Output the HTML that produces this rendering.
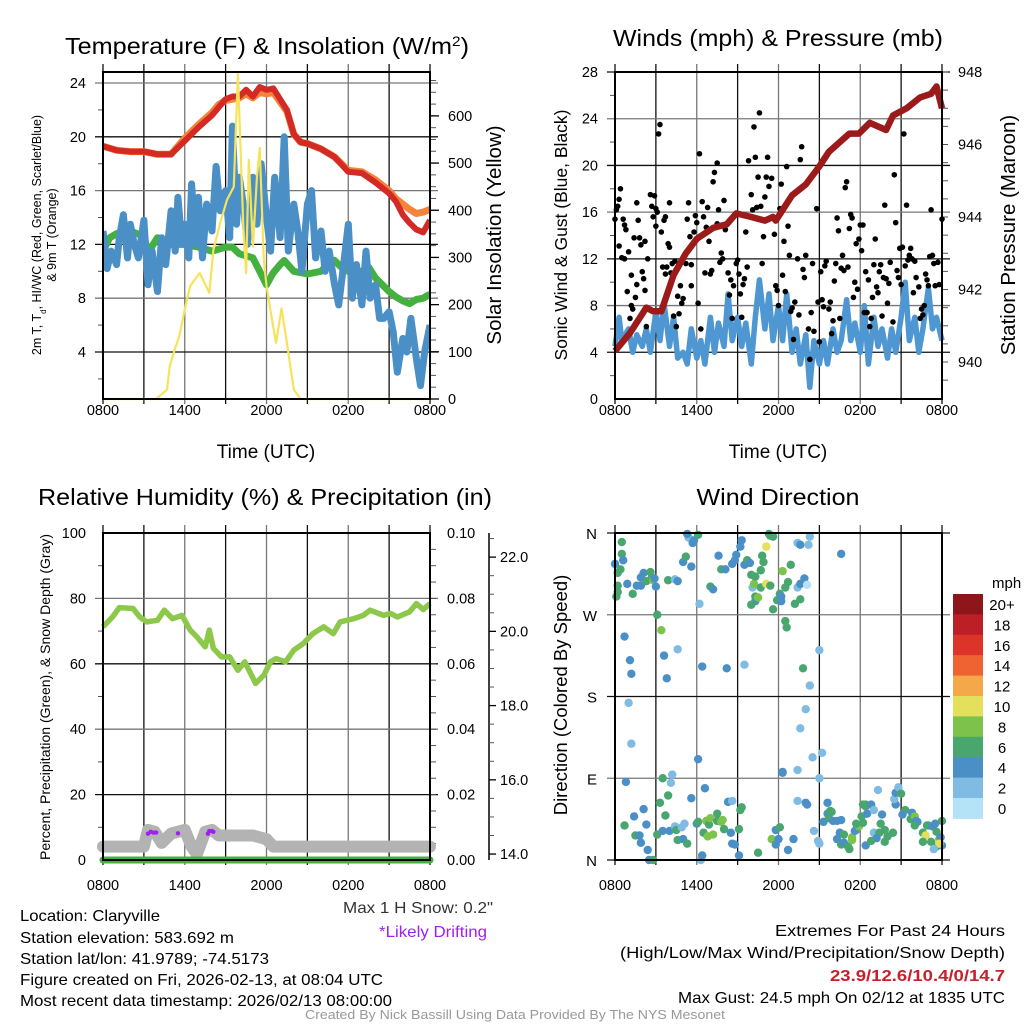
<!DOCTYPE html>
<html><head><meta charset="utf-8">
<style>
html,body{margin:0;padding:0;background:#fff;}
svg{display:block;font-family:"Liberation Sans",sans-serif;}
</style></head>
<body>
<svg id="fig" width="1024" height="1024" viewBox="0 0 1024 1024" xmlns="http://www.w3.org/2000/svg">
<rect width="1024" height="1024" fill="#fff"/>
<g id="layer"></g>
<!-- titles -->
<text x="267" y="54" text-anchor="middle" font-size="23" textLength="404" lengthAdjust="spacingAndGlyphs">Temperature (F) &amp; Insolation (W/m<tspan baseline-shift="super" font-size="14">2</tspan>)</text>
<text x="778" y="46" text-anchor="middle" font-size="23" textLength="330" lengthAdjust="spacingAndGlyphs">Winds (mph) &amp; Pressure (mb)</text>
<text x="265" y="505" text-anchor="middle" font-size="23" textLength="454" lengthAdjust="spacingAndGlyphs">Relative Humidity (%) &amp; Precipitation (in)</text>
<text x="778" y="505" text-anchor="middle" font-size="23" textLength="163" lengthAdjust="spacingAndGlyphs">Wind Direction</text>
<!-- axis titles -->
<text x="266" y="458" text-anchor="middle" font-size="19">Time (UTC)</text>
<text x="778" y="458" text-anchor="middle" font-size="19">Time (UTC)</text>
<text transform="translate(41,235) rotate(-90)" text-anchor="middle" font-size="12.5">2m T, T<tspan baseline-shift="sub" font-size="8">d</tspan>, HI/WC (Red, Green, Scarlet/Blue)</text>
<text transform="translate(56,235) rotate(-90)" text-anchor="middle" font-size="12.5">&amp; 9m T (Orange)</text>
<text transform="translate(501,235) rotate(-90)" text-anchor="middle" font-size="20.5">Solar Insolation (Yellow)</text>
<text transform="translate(567,235) rotate(-90)" text-anchor="middle" font-size="17.5">Sonic Wind &amp; Gust (Blue, Black)</text>
<text transform="translate(1015,235) rotate(-90)" text-anchor="middle" font-size="20.5">Station Pressure (Maroon)</text>
<text transform="translate(50,697) rotate(-90)" text-anchor="middle" font-size="14">Percent, Precipitation (Green), &amp; Snow Depth (Gray)</text>
<text transform="translate(567,695) rotate(-90)" text-anchor="middle" font-size="18.5">Direction (Colored By Speed)</text>
<!-- footer texts -->
<text x="493" y="913" text-anchor="end" font-size="16" textLength="150" lengthAdjust="spacingAndGlyphs" fill="#333">Max 1 H Snow: 0.2"</text>
<text x="433" y="937" text-anchor="middle" font-size="16" textLength="108" lengthAdjust="spacingAndGlyphs" fill="#a020f0">*Likely Drifting</text>
<g font-size="16" fill="#000">
<text x="20" y="921" textLength="140" lengthAdjust="spacingAndGlyphs">Location: Claryville</text>
<text x="20" y="943" textLength="214" lengthAdjust="spacingAndGlyphs">Station elevation: 583.692 m</text>
<text x="20" y="964" textLength="249" lengthAdjust="spacingAndGlyphs">Station lat/lon: 41.9789; -74.5173</text>
<text x="20" y="985" textLength="363" lengthAdjust="spacingAndGlyphs">Figure created on Fri, 2026-02-13, at 08:04 UTC</text>
<text x="20" y="1006" textLength="372" lengthAdjust="spacingAndGlyphs">Most recent data timestamp: 2026/02/13 08:00:00</text>
</g>
<g font-size="16" text-anchor="end">
<text x="1005" y="936" textLength="230" lengthAdjust="spacingAndGlyphs">Extremes For Past 24 Hours</text>
<text x="1005" y="958" textLength="385" lengthAdjust="spacingAndGlyphs">(High/Low/Max Wind/Precipitation/Snow Depth)</text>
<text x="1005" y="981" fill="#c8202a" font-weight="bold" textLength="175" lengthAdjust="spacingAndGlyphs">23.9/12.6/10.4/0/14.7</text>
<text x="1005" y="1003" textLength="327" lengthAdjust="spacingAndGlyphs">Max Gust: 24.5 mph On 02/12 at 1835 UTC</text>
</g>
<text x="515" y="1019" text-anchor="middle" font-size="12.5" textLength="420" lengthAdjust="spacingAndGlyphs" fill="#999">Created By Nick Bassill Using Data Provided By The NYS Mesonet</text>
</svg>
<script>
// ---------- DATA ----------
const xTickLabels = ["0800","1400","2000","0200","0800"];
const tempHours = [0,1,2,3,4,5,5.5,6,7,8,8.5,9,9.5,10,10.5,11,11.5,12,12.5,13,13.5,14,14.5,15,16,17,18,19,20,21,21.5,22,22.5,23,23.5,24];
const tempRed   = [19.3,19.0,18.9,18.9,18.7,18.7,19.2,19.7,20.7,21.6,22.2,22.8,23.0,23.0,23.5,23.0,23.7,23.5,23.6,22.8,22.0,20.2,19.6,19.5,19.1,18.5,17.4,17.3,16.6,15.8,15.2,14.2,13.6,13.1,12.9,13.8];
const tempOrange= [19.3,19.0,18.9,18.9,18.7,18.7,19.3,19.9,20.9,21.8,22.4,22.7,22.8,22.9,23.2,22.9,23.3,23.2,23.3,22.6,21.9,20.2,19.6,19.5,19.1,18.5,17.5,17.4,16.8,16.0,15.4,15.0,14.6,14.3,14.4,14.6];
const dewHours = [0,0.5,1,2,3,3.3,4,5,6,7,8,9,9.5,10,11,11.5,12,12.5,13,13.3,14,15,16,16.5,17,17.5,18,19,19.5,20,21,21.5,22,22.5,23,23.5,24];
const dewGreen = [11.5,12.5,12.8,13.0,12.6,11.4,12.5,12.0,12.0,11.8,11.5,11.8,11.8,11.3,11.0,10.0,9.0,9.9,10.5,10.8,10.0,9.8,10.0,10.5,10.8,10.3,10.0,10.0,10.3,9.5,8.5,8.1,7.8,7.6,7.9,8.0,8.3];
const wcHours = [0,0.3,0.6,1,1.2,1.5,1.8,2,2.3,2.6,3,3.3,3.6,4,4.3,4.6,5,5.3,5.5,5.8,6,6.3,6.5,6.8,7,7.3,7.6,8,8.3,8.6,9,9.3,9.5,9.8,10,10.3,10.6,11,11.3,11.6,12,12.3,12.6,13,13.3,13.6,14,14.3,14.6,15,15.3,15.6,16,16.3,16.6,17,17.3,17.6,18,18.3,18.6,19,19.3,19.6,20,20.3,20.6,21,21.3,21.6,22,22.3,22.6,23,23.3,23.6,24];
const wcBlue  = [13.0,10.2,11.5,10.5,12.5,14.2,11.0,13.5,12.0,11.0,13.8,9.0,11.5,8.5,12.5,10.5,14.5,11.5,15.5,12.0,13.5,11.0,16.5,12.0,15.5,11.0,15.0,13.0,17.8,14.5,16.0,12.5,20.8,13.5,17.0,15.0,12.0,17.0,13.5,18.0,14.0,11.5,17.0,12.5,20.0,11.5,15.0,13.0,10.0,15.0,16.0,11.0,13.0,10.0,11.5,9.0,7.5,10.0,13.5,8.0,10.5,7.5,11.5,8.0,9.0,6.5,6.5,7.0,5.5,2.5,5.0,4.0,6.5,3.5,1.5,4.0,6.0];
const solarHours = [0,3.9,4.7,4.9,5.3,5.6,6,6.4,7.1,7.8,8.1,8.6,9.1,9.6,9.9,10.3,10.5,10.7,11,11.3,11.5,11.8,12,12.4,12.7,13.1,13.5,14,14.5,24];
const solarYellow= [0,0,20,70,108,133,190,240,267,225,316,373,422,450,690,366,267,507,323,472,532,295,240,168,119,192,119,20,0,0];
const presHours = [0,1.1,2.3,2.8,3.4,4.3,5.2,6,7.2,8.2,8.9,10,11,11.6,11.8,13,14,15,15.7,17.2,17.9,18.7,19.9,20.4,21.4,22.4,23.2,23.6,24];
const presMaroon= [940.3,940.8,941.5,941.4,941.4,942.4,943.0,943.4,943.7,943.8,944.1,944.0,943.9,944.0,943.9,944.6,944.9,945.4,945.8,946.3,946.3,946.6,946.4,946.8,947.0,947.3,947.4,947.6,947.0];
const windHours = [0,0.3,0.5,1,1.3,1.6,2,2.3,2.6,3,3.3,3.6,4,4.3,4.6,5,5.3,5.6,6,6.3,6.6,7,7.3,7.6,8,8.3,8.6,9,9.3,9.6,10,10.3,10.6,11,11.3,11.6,12,12.3,12.6,13,13.3,13.6,14,14.3,14.6,15,15.3,15.6,16,16.3,16.6,17,17.3,17.6,18,18.3,18.6,19,19.3,19.6,20,20.3,20.6,21,21.3,21.6,22,22.3,22.6,23,23.3,23.6,24];
const windBlue  = [4.5,7,5,6,4,5.5,4.5,6,4,7.5,5,8.2,4.5,7,3.5,4,3,6,3.5,5,3,7,4,6.5,4.5,9,5,7,4.5,6.5,3,7,10.2,6,9,5,8,5,9,4,6,3,5.5,1,5,3,5,3,6,4,5,8.5,5,6.5,4,8,3,7,4.5,6,3.5,6,4,7,10,5,7,4,6,9.5,6,7,5];
const gustHours = [0,0.1,0.2,0.3,0.4,0.3,0.5,0.6,0.7,0.8,0.7,0.9,1,1.1,1.2,1.3,1.2,1.4,1.5,1.6,1.7,1.6,1.8,1.9,2.0,2.1,2.2,2.2,2.3,2.4,2.6,2.7,2.8,2.9,3.0,3.0,3.1,3.2,3.3,3.4,3.5,3.6,3.7,3.7,3.8,3.9,4.0,4.0,4.1,4.2,4.3,4.4,4.5,4.6,4.7,4.8,4.9,5.0,5.2,5.3,5.4,5.5,5.6,5.6,5.8,5.9,6.0,6.1,6.2,6.3,6.4,6.5,6.6,6.7,6.8,6.9,7.0,7.1,7.2,7.3,7.5,7.5,7.6,7.7,7.8,7.9,8.0,8.1,8.3,8.4,8.5,8.6,8.7,8.9,9.0,9.1,9.2,9.3,9.4,9.5,9.6,9.7,9.8,10,10.1,10.2,10.3,10.4,10.5,10.6,10.7,10.8,10.9,11.0,11.1,11.2,11.3,11.5,11.6,11.7,11.8,11.9,12.0,12.1,12.2,12.3,12.4,12.5,12.6,12.7,12.8,12.9,13.0,13.1,13.2,13.4,13.5,13.6,13.7,13.8,13.9,14.0,14.2,14.3,14.4,14.5,14.6,14.8,14.9,15.0,15.1,15.2,15.3,15.4,15.5,15.7,15.8,15.9,16.0,16.1,16.2,16.3,16.4,16.5,16.6,16.7,16.8,16.9,17.0,17.1,17.2,17.3,17.4,17.5,17.6,17.7,17.8,17.9,18.0,18.1,18.2,18.3,18.4,18.5,18.6,18.7,18.8,18.9,19.0,19.1,19.2,19.3,19.4,19.5,19.6,19.7,19.8,19.9,20.0,20.1,20.2,20.4,20.5,20.6,20.7,20.8,20.9,21.0,21.1,21.2,21.3,21.4,21.5,21.6,21.7,21.8,21.9,22.0,22.1,22.3,22.4,22.5,22.6,22.7,22.8,22.9,23.0,23.1,23.2,23.3,23.4,23.5,23.7,23.8,24.0];
const gustBlack = [15.4,16.2,16.5,17.1,18,13.1,12.1,15.4,14.9,14.5,12,9.2,12.6,6.9,8,7.7,10.6,13.8,8.7,16.8,15.3,9.8,13.8,13.2,10.9,10.3,9.3,13.5,6.2,12,17.5,16.5,15.6,17.4,14.8,16.3,16,22.7,23.5,14.3,11.3,15.3,10.7,15.6,11.3,13.3,16.8,13,10.8,11.6,7.1,11.8,6.2,8.8,7.3,9.7,8.2,8.6,11.6,15.4,16.8,13.9,9.7,11.5,14.3,15.7,15.1,8.2,21,6.0,16.9,15.6,10.8,14.7,16.4,13.5,10.7,11,18.6,19.4,20.2,15,16.2,11.7,12.5,12,17,14.5,10.8,8.9,10.2,6.9,9.7,11.6,11.9,10.7,9.0,7.0,9.8,10.3,14.3,11.3,20.4,17.5,16.2,23.3,20.7,16.4,19,24.5,16.5,11.6,13.9,17.3,19,20.7,18.2,18.9,15.5,14.1,9.7,9.3,8.0,16.3,18.4,10.6,13.5,9.2,19.9,14.8,12.3,7.5,7.8,5.1,8.3,12,7.2,20.5,21.6,11.1,10.4,12.3,6.0,3.4,7.4,11.6,5.8,16.3,8.3,4.9,10.9,8.5,7.9,11.4,11.8,7.7,8.3,5.6,6.7,10.1,11.6,15.5,14.4,6.9,11.2,12.3,11.0,18.1,18.6,11.3,14.6,15.8,15.5,8.7,10,13.3,9.4,13.7,14.9,12.7,14.9,7.4,10.9,7.4,10.2,6.2,6.9,8.7,11.5,13.7,9.6,9.1,10.9,11.5,7.1,10.4,16.6,10.3,8.2,9.9,11.7,6.6,19.2,15.1,11.0,10.4,12.9,9.8,13,22.7,11.4,16.6,11.9,12.3,12.9,12,9.1,11.8,10.4,9.6,6.9,7.7,7.2,8.0,10.7,10.2,9.7,12.2,16.2,12.3,11.6,9.7,11.7,9.8,15.4];
const rhHours = [0,0.7,1.2,2.2,2.7,3.2,4.0,4.5,5.1,5.8,6.4,6.9,7.5,7.8,8.1,8.7,9.3,9.9,10.4,11.2,11.8,12.3,12.7,13.4,14.0,14.7,15.4,16.2,16.9,17.4,18.4,19.1,19.6,20.6,21.1,21.6,22.5,23.0,23.5,24];
const rhGreen = [71.3,74.3,77.2,76.9,74.3,72.8,73.3,76.4,73.8,74.8,70.3,68.2,65.2,70.3,64.7,62.1,62.1,58.0,60.6,54.0,56.5,60.6,61.6,60.6,64.2,66.2,69.2,71.3,69.2,72.8,73.8,74.8,76.4,74.8,75.4,74.3,75.9,78.4,76.6,78.4];
const precipHours = [0,24];
const precipIn = [0,0];
const snowHours = [0,3,3.3,3.8,4.3,5,6,6.5,6.9,7.5,8,8.5,9,10,11,12,12.5,13,24];
const snowDepth = [14.2,14.2,14.65,14.6,14.3,14.55,14.65,14.2,14.0,14.6,14.65,14.5,14.5,14.5,14.5,14.4,14.2,14.2,14.2];
const driftHours = [3.3,3.5,3.7,3.9,5.5,7.7,7.8,8.0,8.1];
const driftDepth = [14.55,14.6,14.58,14.58,14.56,14.55,14.62,14.62,14.6];
const dirHours = [0,0.2,0.5,0.6,0.4,0.2,0.1,0.2,0.9,0.5,1.3,1.6,1.9,2.1,1.9,2.3,2.7,2.6,2.8,2.9,3.0,3.1,3.4,3.9,4.4,4.6,5.0,5.2,5.4,5.3,5.7,5.8,6.1,5.6,6.2,7.0,7.2,7.6,7.8,8.1,8.6,8.8,8.9,9.2,9.3,9.5,9.7,9.9,10.0,10.1,10.2,10.3,10.3,10.0,10.5,10.7,10.7,10.3,10.8,10.9,11.3,11.4,11.1,11.6,11.1,11.4,11.6,11.9,12.1,12.2,12.5,12.7,12.9,12.3,12.2,12.5,12.6,13.2,13.4,13.6,13.6,13.9,14.1,13.4,13.6,14.2,14.3,0.7,1.1,1.2,3.6,3.8,4.6,6.4,8.2,9.5,13.8,14.3,15.0,16.6,1.0,1.2,14.0,13.6,14.5,15.2,13.4,15.0,6.1,12.3,
0.8,0.7,1.4,1.5,1.8,2.1,2.3,1.9,2.4,2.5,2.8,3.1,3.3,3.5,3.7,3.9,3.5,4.0,4.2,4.1,4.4,4.5,4.6,4.9,5.1,5.0,5.3,5.6,6.0,6.1,6.3,6.4,6.5,6.6,6.7,6.8,6.9,7.0,7.2,7.5,7.5,7.8,7.9,8.0,8.3,8.6,8.5,8.8,8.6,9.1,9.2,9.1,9.3,10.5,11.5,11.8,12.0,11.8,12.1,12.3,13.1,12.7,13.4,14.0,14.1,14.6,14.9,15.0,15.3,15.6,15.8,15.6,15.9,15.7,16.0,16.3,16.5,16.6,16.3,16.6,16.8,16.8,17.1,17.2,17.4,17.4,17.7,17.6,17.9,17.7,18.1,18.2,18.4,18.2,18.4,18.5,18.4,18.8,19.0,19.3,19.0,19.4,19.6,19.5,19.8,20.0,19.8,19.2,18.8,20.4,20.6,20.5,20.6,20.8,21.0,21.3,21.7,21.8,21.1,22.0,22.1,22.2,22.0,22.6,22.8,22.9,22.6,23.0,23.3,23.5,23.6,23.2,23.6,23.8,23.9,24.0,24.0,23.8,23.4];
const dirDeg = [326,316,337,330,320,302,290,295,304,350,293,302,302,316,311,307,311,317,308,310,301,270,253,308,309,307,328,334,355,359,349,352,358,323,282,301,298,335,320,320,326,330,336,345,352,325,330,327,314,300,304,285,290,281,289,300,319,312,335,328,359,357,345,356,304,302,276,286,293,290,300,306,325,318,285,263,256,282,300,304,287,310,303,349,347,347,356,246,220,205,225,200,232,213,211,215,211,192,231,337,173,128,166,145,113,118,99,90,111,96,
86,38,48,27,27,56,39,19,11,0,0,28,63,90,49,71,32,32,94,85,37,33,22,36,40,23,18,68,40,42,0,5,30,79,43,26,39,46,28,51,43,42,44,34,64,65,30,17,18,5,55,34,58,8,23,33,23,17,36,97,23,11,65,63,61,32,21,18,42,51,54,63,53,46,43,43,30,44,23,17,28,19,15,12,22,25,33,32,37,40,48,41,61,61,59,51,16,61,55,77,30,30,50,40,33,26,20,24,21,30,61,67,74,80,73,55,45,52,50,48,43,42,38,30,27,38,20,38,37,40,31,20,15,23,25,16,43,18,12];
const dirSpeed = [5,7,7,5,7,7,6.5,7,5,7,7,5,5,5,5,7,7,7,9,5,5,7,9,7,3,5,5,7,3,5,5,5,7,5,3,7,5,5,7,5,5,5,5,5,5,5,7,5,7,3,9,5,7,7,9,7,7,7,7,7,7,7,10.5,7,10.5,7,7,7,7,5,7,7,7,9,5,7,7,7,3,5,7,5,1.5,3,5,3,3,5,5,5,5,5,3,5,5,3,7,3,3,5,3,3,3,3,3,3,3,3,5,5,
5,7,5,7,5,5,5,5,5,5,7,7,7,7,7,7,5,5,3,3,3,7,7,3,3,5,7,5,5,7,3,5,7,5,9,9,7,9,9,7,7,9,9,7,5,3,5,5,5,5,7,7,7,7,9,5,5,5,7,5,5,5,3,5,5,3,3,3,5,5,7,5,7,7,5,5,5,5,5,7,7,5,7,7,9,9,7,5,9,7,7,7,7,7,7,5,5,5,3,3,3,7,5,7,7,7,7,5,7,7,5,3,5,3,7,7,7,5,5,9,5,5,7,7,11,7,7,7,5,5,7,7,7,9,5,5,7,11,3];
const speedBinLabels = ["20+","18","16","14","12","10","8","6","4","2","0"];
const speedBinColors = ["#8e1519","#bd1f26","#dc3429","#ee6331","#f4a84a","#e5e05b","#7dc24b","#4aa66f","#4a8fc6","#7fbbe3","#b4e2f7"];

// ---------- HELPERS ----------
const NS = "http://www.w3.org/2000/svg";
const layer = document.getElementById("layer");
function mk(tag, attrs, name, inter, parent){
  const e = document.createElementNS(NS, tag);
  for (const k in attrs) e.setAttribute(k, attrs[k]);
  
  
  (parent || layer).appendChild(e);
  return e;
}
function lin(d0,d1,r0,r1){ return v => r0 + (v-d0)/(d1-d0)*(r1-r0); }
function pathD(xs, ys, sx, sy){
  let d = "";
  for (let i=0;i<xs.length;i++) d += (i?"L":"M") + sx(xs[i]).toFixed(1) + "," + sy(ys[i]).toFixed(1);
  return d;
}
function frame(x0,x1,y0,y1,prefix,labOff){
  const sx = lin(0,24,x0,x1);
  for (let h=0; h<=24; h+=3){
    const col = (h%6===0 && h!==0 && h!==24) ? "#777" : "#111";
    mk("line",{x1:sx(h),x2:sx(h),y1:y0-8,y2:y1+5,stroke:col,"stroke-width":1.3},prefix+"-vgrid",false);
  }
  for (let i=0;i<xTickLabels.length;i++){
    const t = mk("text",{x:sx(i*6),y:y1+labOff,"text-anchor":"middle","font-size":14.5},prefix+"-x-tick-label",false);
    t.textContent = xTickLabels[i];
  }
  return sx;
}
function hgrid(x0,x1,ys,prefix){
  ys.forEach((y,i)=>{
    mk("line",{x1:x0-8,x2:x1+8,y1:y,y2:y,stroke:(i%2? "#777":"#111"),"stroke-width":1.3},prefix+"-hgrid",false);
  });
}
function ylabels(vals, sy, x, anchor, fmt, prefix){
  vals.forEach(v=>{
    const t = mk("text",{x:x,y:sy(v)+5,"text-anchor":anchor,"font-size":14.5},prefix+"-y-tick-label",false);
    t.textContent = fmt(v);
  });
}
function minor(vals, sy, xa, xb, prefix){
  vals.forEach(v=>mk("line",{x1:xa,x2:xb,y1:sy(v),y2:sy(v),stroke:"#555","stroke-width":1},prefix+"-minor-tick",false));
}
function box(x0,x1,y0,y1,prefix){
  mk("rect",{x:x0,y:y0,width:x1-x0,height:y1-y0,fill:"none",stroke:"#000","stroke-width":2},prefix+"-plot-frame",false);
}

// ---------- PANEL 1: Temperature ----------
(function(){
  const x0=103,x1=430,y0=72,y1=399;
  const sx = frame(x0,x1,y0,y1,"temp",16);
  const sy = lin(0.505,24.82,y1,y0);
  const sr = lin(0,693,y1,y0);
  const ticks=[4,8,12,16,20,24];
  hgrid(x0,x1,ticks.map(sy),"temp");
  minor([2,6,10,14,18,22],sy,x0-5,x0,"temp-left");
  const rm=[]; for(let v=25;v<=675;v+=25) rm.push(v);
  minor(rm,sr,x1,x1+6,"temp-right");
  [0,100,200,300,400,500,600].forEach(v=>mk("line",{x1:x1,x2:x1+9,y1:sr(v),y2:sr(v),stroke:"#000","stroke-width":1.3},"solar-major-tick",false));
  ylabels(ticks,sy,86,"end",v=>String(v),"temp");
  ylabels([0,100,200,300,400,500,600],sr,448,"start",v=>String(v),"solar");
  const cp = mk("clipPath",{id:"c1"},"temp-clip",false); mk("rect",{x:x0,y:y0-20,width:x1-x0,height:y1-y0+20},"temp-clip-rect",false,cp);
  const g = mk("g",{"clip-path":"url(#c1)"},"temp-series-group",false);
  mk("path",{d:pathD(dewHours,dewGreen,sx,sy),fill:"none",stroke:"#44b03f","stroke-width":7,"stroke-linejoin":"round"},"dewpoint-line",false,g);
  mk("path",{d:pathD(wcHours,wcBlue,sx,sy),fill:"none",stroke:"#4a8fc6","stroke-width":7,"stroke-linejoin":"round"},"windchill-line",false,g);
  mk("path",{d:pathD(tempHours,tempOrange,sx,sy),fill:"none",stroke:"#f5843a","stroke-width":7,"stroke-linejoin":"round"},"temp-9m-line",false,g);
  mk("path",{d:pathD(tempHours,tempRed,sx,sy),fill:"none",stroke:"#d42a26","stroke-width":6,"stroke-linejoin":"round"},"temp-2m-line",false,g);
  mk("path",{d:pathD(solarHours,solarYellow,sx,sr),fill:"none",stroke:"#f6e35a","stroke-width":2.2,"stroke-linejoin":"round"},"solar-line",false);
  box(x0,x1,y0,y1,"temp");
})();

// ---------- PANEL 2: Winds ----------
(function(){
  const x0=615,x1=942,y0=72,y1=399;
  const sx = frame(x0,x1,y0,y1,"wind",16);
  const sy = lin(0,28,y1,y0);
  const sp = lin(938.98,948,y1,y0);
  const ticks=[0,4,8,12,16,20,24,28];
  hgrid(x0,x1,ticks.slice(1).map(sy),"wind");
  minor([2,6,10,14,18,22,26],sy,x0-5,x0,"wind-left");
  const rm=[]; for(let v=939.5;v<=948;v+=0.5) rm.push(v);
  minor(rm,sp,x1,x1+6,"wind-right");
  ylabels(ticks,sy,598,"end",v=>String(v),"wind");
  ylabels([940,942,944,946,948],sp,958,"start",v=>String(v),"pressure");
  mk("path",{d:pathD(windHours,windBlue,sx,sy),fill:"none",stroke:"#4f97d2","stroke-width":5.5,"stroke-linejoin":"round"},"sonic-wind-line",false);
  for (let i=0;i<gustHours.length;i++){
    mk("circle",{cx:sx(gustHours[i]),cy:sy(gustBlack[i]),r:2.8,fill:"#000"},"gust-point",false);
  }
  mk("path",{d:pathD(presHours,presMaroon,sx,sp),fill:"none",stroke:"#9b1b1b","stroke-width":6.5,"stroke-linejoin":"round"},"pressure-line",false);
  box(x0,x1,y0,y1,"wind");
})();

// ---------- PANEL 3: Humidity ----------
(function(){
  const x0=103,x1=430,y0=533,y1=860;
  const sx = frame(x0,x1,y0,y1,"rh",30);
  const sy = lin(0,100,y1,y0);
  const sd = lin(13.84,22.65,y1,y0);
  const ticks=[0,20,40,60,80,100];
  hgrid(x0,x1,ticks.slice(1,5).map(sy),"rh");
  minor([10,30,50,70,90],sy,x0-5,x0,"rh-left");
  const rm=[]; for(let v=5;v<=95;v+=5) rm.push(v);
  minor(rm,sy,x1,x1+6,"rh-right");
  ylabels(ticks,sy,86,"end",v=>String(v),"rh");
  ylabels(ticks,sy,447,"start",v=>(v/1000).toFixed(2),"precip");
  mk("line",{x1:489,x2:489,y1:y0,y2:y1,stroke:"#000","stroke-width":1.5},"snow-axis-line",false);
  [14,16,18,20,22].forEach(v=>mk("line",{x1:489,x2:496,y1:sd(v),y2:sd(v),stroke:"#000","stroke-width":1.3},"snow-major-tick",false));
  minor([14.5,15,15.5,16.5,17,17.5,18.5,19,19.5,20.5,21,21.5,22.5],sd,489,494,"snow");
  ylabels([14,16,18,20,22],sd,500,"start",v=>v.toFixed(1),"snow");
  mk("path",{d:pathD(snowHours,snowDepth,sx,sd),fill:"none",stroke:"#b3b3b3","stroke-width":12,"stroke-linejoin":"round","stroke-linecap":"round"},"snow-depth-line",false);
  for (let i=0;i<driftHours.length;i++){
    mk("circle",{cx:sx(driftHours[i]),cy:sd(driftDepth[i]),r:2.2,fill:"#a020f0"},"drifting-mark",false);
  }
  mk("path",{d:pathD(precipHours,precipIn.map(v=>v*1000),sx,sy),fill:"none",stroke:"#44b03f","stroke-width":7,"stroke-linecap":"round"},"precip-line",false);
  mk("path",{d:pathD(rhHours,rhGreen,sx,sy),fill:"none",stroke:"#8dc84a","stroke-width":5.5,"stroke-linejoin":"round"},"rh-line",false);
  box(x0,x1,y0,y1,"rh");
})();

// ---------- PANEL 4: Wind direction ----------
(function(){
  const x0=615,x1=942,y0=533,y1=860;
  const sx = frame(x0,x1,y0,y1,"dir",30);
  const sy = lin(0,360,y1,y0);
  const ticks=[0,90,180,270,360], names=["N","E","S","W","N"];
  hgrid(x0,x1,ticks.map(sy),"dir");
  ticks.forEach((v,i)=>{ const t=mk("text",{x:597,y:sy(v)+6,"text-anchor":"end","font-size":15},"dir-y-tick-label",false); t.textContent=names[i]; });
  function colorFor(s){ let b=Math.min(10,Math.floor(s/2)); return speedBinColors[10-b]; }
  for (let i=0;i<dirHours.length;i++){
    mk("circle",{cx:sx(dirHours[i]),cy:sy(dirDeg[i]),r:4.2,fill:colorFor(dirSpeed[i])},"direction-point",false);
  }
  box(x0,x1,y0,y1,"dir");
  const cbx=953, cby=594, ch=20.4;
  const u=mk("text",{x:992,y:588,"font-size":15,"text-anchor":"start"},"colorbar-unit",false); u.textContent="mph";
  speedBinLabels.forEach((lab,i)=>{
    mk("rect",{x:cbx,y:cby+i*ch,width:30,height:ch+0.5,fill:speedBinColors[i]},"colorbar-swatch",false);
    const t=mk("text",{x:1002,y:cby+i*ch+16,"text-anchor":"middle","font-size":15},"colorbar-label",false);
    t.textContent=lab;
  });
})();
</script>
</body></html>
